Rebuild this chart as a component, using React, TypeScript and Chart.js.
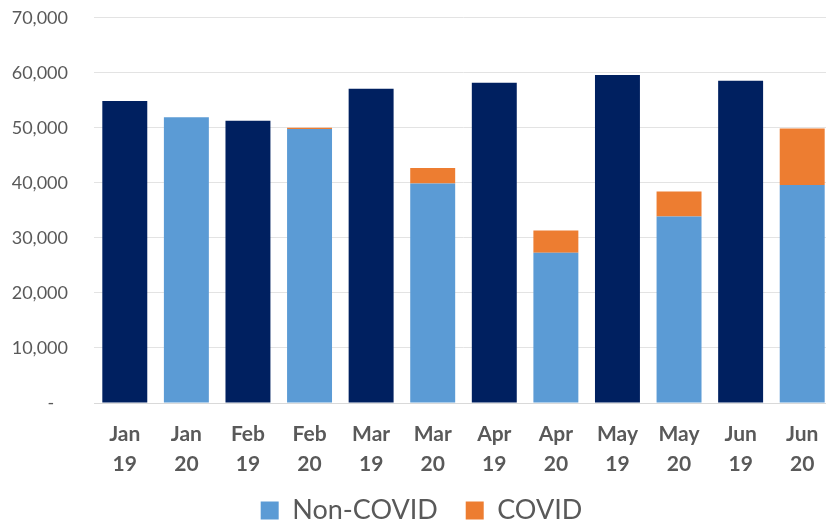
import React, { useEffect, useRef } from "react";
import { Chart, registerables } from "chart.js";

Chart.register(...registerables);

const categories: string[][] = [
  ["Jan", "19"], ["Jan", "20"], ["Feb", "19"], ["Feb", "20"],
  ["Mar", "19"], ["Mar", "20"], ["Apr", "19"], ["Apr", "20"],
  ["May", "19"], ["May", "20"], ["Jun", "19"], ["Jun", "20"],
];
const totals2019: (number | null)[] = [54900, null, 51300, null, 57100, null, 58200, null, 59600, null, 58550, null];
const nonCovid: (number | null)[] = [null, 51950, null, 49800, null, 39900, null, 27300, null, 33900, null, 39600];
const covid: (number | null)[] = [null, 0, null, 200, null, 2800, null, 4050, null, 4550, null, 10300];
const yTicks = [0, 10000, 20000, 30000, 40000, 50000, 60000, 70000];

const FONT = "Lato, 'Open Sans', sans-serif";
const GREY = "#595959";

export default function App() {
  const ref = useRef<HTMLCanvasElement | null>(null);
  useEffect(() => {
    if (!ref.current) return;
    const chart = new Chart(ref.current, {
      type: "bar",
      data: {
        labels: categories,
        datasets: [
          { label: "2019", data: totals2019, backgroundColor: "#002060" },
          { label: "Non-COVID", data: nonCovid, backgroundColor: "#5B9BD5" },
          { label: "COVID", data: covid, backgroundColor: "#ED7D31" },
        ],
      },
      options: {
        responsive: false,
        animation: false,
        datasets: { bar: { categoryPercentage: 0.73, barPercentage: 1 } },
        layout: { padding: { left: 10, right: 57, top: 0, bottom: 0 } },
        plugins: {
          tooltip: { enabled: false },
          legend: {
            position: "bottom",
            maxHeight: 40,
            labels: {
              generateLabels: (c: any) =>
                Chart.defaults.plugins.legend.labels
                  .generateLabels(c)
                  .filter((it: any) => it.text !== "2019")
                  .map((it: any, i: number) => ({ ...it, text: i === 0 ? it.text + "  " : it.text })),
              boxWidth: 18,
              boxHeight: 18,
              padding: 14,
              color: GREY,
              font: { family: FONT, size: 27 },
            },
          },
        },
        scales: {
          x: {
            stacked: true,
            grid: { display: false, drawTicks: false },
            border: { display: true, color: "#D9D9D9", width: 1 },
            ticks: {
              color: GREY,
              font: { family: FONT, size: 21, weight: "bold", lineHeight: 1.45 },
              padding: 16,
              maxRotation: 0,
              autoSkip: false,
            },
            afterFit: (s: any) => { s.height = 80; },
          },
          y: {
            stacked: true,
            min: 0,
            max: 70000,
            afterBuildTicks: (s: any) => { s.ticks = yTicks.map((v) => ({ value: v })); },
            grid: { color: "#E3E3E3", lineWidth: 1, drawTicks: false },
            border: { display: false },
            ticks: {
              color: GREY,
              font: { family: FONT, size: 18 },
              padding: 26,
              callback: (v: any) => (Number(v) === 0 ? "-   " : Number(v).toLocaleString("en-US")),
            },
            afterFit: (s: any) => { s.width = 84; },
          },
        },
      },
    });
    return () => chart.destroy();
  }, []);
  return (
    <div style={{ position: "fixed", left: 0, top: 0, width: 826, height: 523, overflow: "hidden", background: "#fff" }}>
      <canvas ref={ref} width={890} height={542} style={{ display: "block", position: "absolute", left: 0, top: -19, width: 890, height: 542 }} />
    </div>
  );
}
